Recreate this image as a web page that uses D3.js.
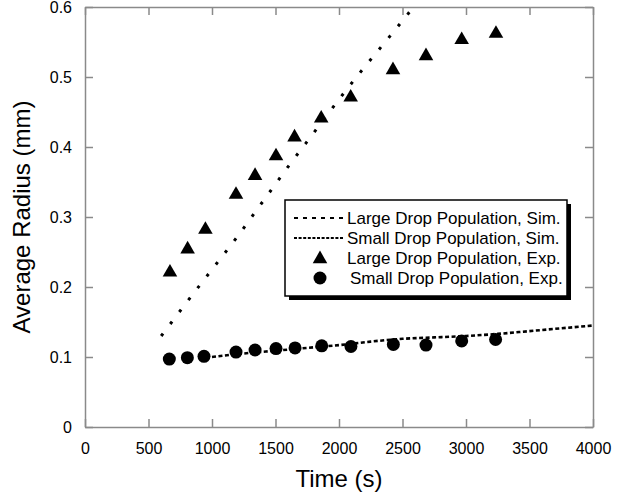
<!DOCTYPE html>
<html>
<head>
<meta charset="utf-8">
<script src="https://cdn.jsdelivr.net/npm/d3@7"></script>
<style>
  body { margin: 0; background: #fff; }
  text { font-family: Arial, "Liberation Sans", sans-serif; fill: #000; }
</style>
</head>
<body>
<div id="chart"></div>
<script>
// Average radius of drop populations vs time

const width = 624;
const height = 496;
const margin = {left: 85, right: 31, top: 7, bottom: 69};

// experimental points, large drops (triangles)
const largeExpTime   = [669, 808, 948, 1189, 1339, 1504, 1650, 1860, 2092, 2425, 2685, 2966, 3236];
const largeExpRadius = [0.221, 0.254, 0.282, 0.332, 0.359, 0.387, 0.414, 0.441, 0.471, 0.510, 0.530, 0.553, 0.562];

// experimental points, small drops (circles)
const smallExpTime   = [664, 806, 937, 1189, 1339, 1504, 1654, 1864, 2094, 2428, 2685, 2966, 3233];
const smallExpRadius = [0.097, 0.099, 0.101, 0.107, 0.110, 0.112, 0.113, 0.116, 0.115, 0.118, 0.117, 0.123, 0.125];

// simulation, large drops (dotted)
const largeSimTime   = [600, 800, 1000, 1200, 1400, 1600, 1800, 2000, 2200, 2400, 2600];
const largeSimRadius = [0.130, 0.178, 0.225, 0.272, 0.322, 0.372, 0.420, 0.468, 0.514, 0.558, 0.603];

// simulation, small drops (dashed)
const smallSimTime   = [1000, 1250, 1500, 1750, 2000, 2250, 2500, 2750, 3000, 3250, 3500, 3750, 4000];
const smallSimRadius = [0.100, 0.105, 0.109, 0.113, 0.117, 0.122, 0.126, 0.128, 0.130, 0.133, 0.137, 0.141, 0.145];

const xTicks = [0, 500, 1000, 1500, 2000, 2500, 3000, 3500, 4000];
const yTicks = [0, 0.1, 0.2, 0.3, 0.4, 0.5, 0.6];

const legendLabels = ["Large Drop Population, Sim.", "Small Drop Population, Sim.",
                      "Large Drop Population, Exp.", "Small Drop Population, Exp."];

const svg = d3.select("#chart")
  .append("svg")
  .attr("width", width)
  .attr("height", height);

const xScale = d3.scaleLinear()
  .domain([0, 4000])
  .range([margin.left, width - margin.right]);

const yScale = d3.scaleLinear()
  .domain([0, 0.6])
  .range([height - margin.bottom, margin.top]);

const axisGrey = "#8a8a8a";

// bottom axis with labels, ticks pointing in
svg.append("g")
  .attr("transform", `translate(0,${height - margin.bottom})`)
  .call(d3.axisBottom(xScale).tickValues(xTicks).tickSizeInner(-8).tickSizeOuter(0).tickPadding(16)
        .tickFormat(d3.format("d")))
  .attr("font-size", "16px");

// left axis with labels
svg.append("g")
  .attr("transform", `translate(${margin.left},0)`)
  .call(d3.axisLeft(yScale).tickValues(yTicks).tickSizeInner(-8).tickSizeOuter(0).tickPadding(13)
        .tickFormat(d3.format("~g")))
  .attr("font-size", "16px");

// top and right: ticks only
svg.append("g")
  .attr("transform", `translate(0,${margin.top})`)
  .call(d3.axisTop(xScale).tickValues(xTicks).tickSizeInner(-8).tickSizeOuter(0).tickFormat(""));

svg.append("g")
  .attr("transform", `translate(${width - margin.right},0)`)
  .call(d3.axisRight(yScale).tickValues(yTicks).tickSizeInner(-8).tickSizeOuter(0).tickFormat(""));

svg.selectAll(".domain, .tick line")
  .attr("stroke", axisGrey)
  .attr("stroke-width", 1.5);
svg.selectAll(".tick text").attr("fill", "#000").style("font-family", "Arial, 'Liberation Sans', sans-serif");

// axis titles
svg.append("text")
  .attr("x", (xScale(0) + xScale(4000)) / 2)
  .attr("y", 487)
  .attr("text-anchor", "middle")
  .attr("font-size", "24px")
  .text("Time (s)");

svg.append("text")
  .attr("transform", `translate(30,${(yScale(0) + yScale(0.6)) / 2}) rotate(-90)`)
  .attr("text-anchor", "middle")
  .attr("font-size", "24px")
  .text("Average Radius (mm)");

// clip for the lines
svg.append("clipPath").attr("id", "plotclip")
  .append("rect")
  .attr("x", margin.left).attr("y", margin.top)
  .attr("width", width - margin.left - margin.right)
  .attr("height", height - margin.top - margin.bottom);

const line = d3.line()
  .x(d => xScale(d[0]))
  .y(d => yScale(d[1]))
  .curve(d3.curveMonotoneX);

// large sim - dotted
svg.append("path")
  .datum(d3.zip(largeSimTime, largeSimRadius))
  .attr("clip-path", "url(#plotclip)")
  .attr("d", line)
  .attr("fill", "none")
  .attr("stroke", "#000")
  .attr("stroke-width", 3)
  .attr("stroke-dasharray", "3 12");

// small sim - dashed
svg.append("path")
  .datum(d3.zip(smallSimTime, smallSimRadius))
  .attr("clip-path", "url(#plotclip)")
  .attr("d", line)
  .attr("fill", "none")
  .attr("stroke", "#000")
  .attr("stroke-width", 2.6)
  .attr("stroke-dasharray", "4 2.5");

// triangles
const tri = d3.symbol().type(d3.symbolTriangle).size(92);
svg.selectAll(".tri")
  .data(d3.zip(largeExpTime, largeExpRadius))
  .enter()
  .append("path")
    .attr("class", "tri")
    .attr("d", tri)
    .attr("transform", d => `translate(${xScale(d[0])},${yScale(d[1])})`)
    .attr("fill", "#000");

// circles
svg.selectAll(".dot")
  .data(d3.zip(smallExpTime, smallExpRadius))
  .enter()
  .append("circle")
    .attr("class", "dot")
    .attr("cx", d => xScale(d[0]))
    .attr("cy", d => yScale(d[1]))
    .attr("r", 6.5)
    .attr("fill", "#000");

// legend
const legend = svg.append("g").attr("transform", "translate(285,200)");
legend.append("rect")
  .attr("x", 4).attr("y", 4).attr("width", 282).attr("height", 96)
  .attr("fill", "#000");
legend.append("rect")
  .attr("x", 0).attr("y", 0).attr("width", 282).attr("height", 96)
  .attr("fill", "#fff").attr("stroke", "#000").attr("stroke-width", 1.5);

const rowY = i => 18 + i * 20;

legend.append("line")
  .attr("x1", 9).attr("x2", 59).attr("y1", rowY(0)).attr("y2", rowY(0))
  .attr("stroke", "#000").attr("stroke-width", 2).attr("stroke-dasharray", "4 5");
legend.append("line")
  .attr("x1", 9).attr("x2", 59).attr("y1", rowY(1)).attr("y2", rowY(1))
  .attr("stroke", "#000").attr("stroke-width", 2).attr("stroke-dasharray", "3 1.6");
legend.append("path")
  .attr("d", tri)
  .attr("transform", `translate(35,${rowY(2) + 1})`)
  .attr("fill", "#000");
legend.append("circle")
  .attr("cx", 35).attr("cy", rowY(3)).attr("r", 6.5)
  .attr("fill", "#000");

legend.selectAll(".lab")
  .data(legendLabels)
  .enter()
  .append("text")
    .attr("class", "lab")
    .attr("x", (d, i) => i == 3 ? 65 : 62)
    .attr("y", (d, i) => rowY(i) + 6)
    .attr("font-size", "17px")
    .text(d => d);
</script>
</body>
</html>
